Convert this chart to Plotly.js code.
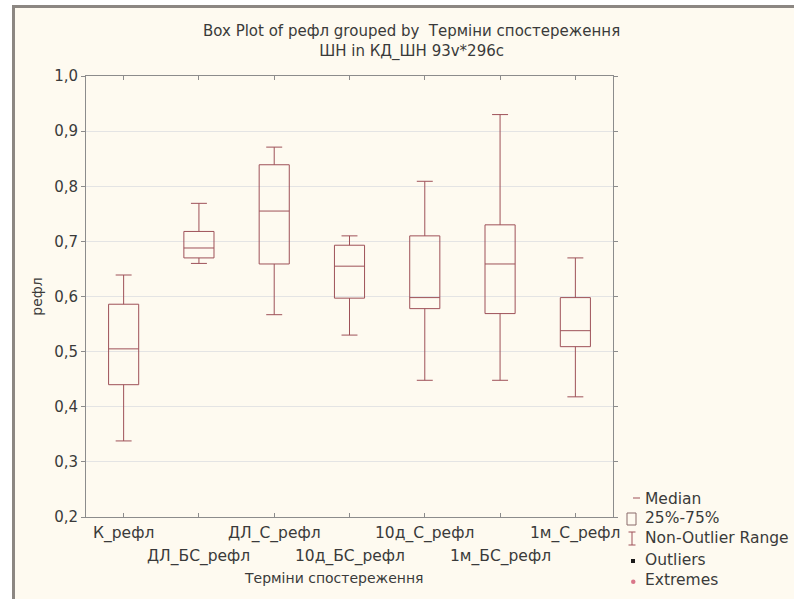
<!DOCTYPE html>
<html>
<head>
<meta charset="utf-8">
<script src="https://cdn.plot.ly/plotly-3.0.1.min.js"></script>
<style>
  html, body { margin: 0; padding: 0; background: #ffffff; }
  #chart { width: 794px; height: 599px; }
</style>
</head>
<body>
<div id="chart"></div>
<script>
// Observation periods and the summary statistics of "рефл" for each
var categories = ['К_рефл', 'ДЛ_БС_рефл', 'ДЛ_С_рефл', '10д_БС_рефл', '10д_С_рефл', '1м_БС_рефл', '1м_С_рефл'];
var medians    = [0.505, 0.688, 0.755, 0.655, 0.598, 0.659, 0.538];
var q1Values   = [0.440, 0.670, 0.659, 0.597, 0.578, 0.569, 0.509];
var q3Values   = [0.586, 0.718, 0.839, 0.693, 0.710, 0.730, 0.598];
var lowValues  = [0.338, 0.660, 0.567, 0.530, 0.448, 0.448, 0.418];
var highValues = [0.639, 0.769, 0.871, 0.710, 0.809, 0.930, 0.670];

var legendLabels = ['Median', '25%-75%', 'Non-Outlier Range', 'Outliers', 'Extremes'];
var yTickVals = [0.2, 0.3, 0.4, 0.5, 0.6, 0.7, 0.8, 0.9, 1.0];

var FONT = 'DejaVu Sans, Liberation Sans, Arial, sans-serif';
var BOX_COLOR = '#9e5158';
var TEXT_COLOR = '#3a3a3a';

// Plot area in pixels (used to turn pixel positions of decorations into paper units)
var W = 794, H = 599;
var M = { l: 86, r: 181, t: 76, b: 82 };
var PW = W - M.l - M.r, PH = H - M.t - M.b;
function px(x) { return (x - M.l) / PW; }
function py(y) { return (H - M.b - y) / PH; }

var trace = {
  type: 'box',
  x: categories,
  q1: q1Values,
  median: medians,
  q3: q3Values,
  lowerfence: lowValues,
  upperfence: highValues,
  boxpoints: false,
  width: 0.4,
  whiskerwidth: 0.53,
  fillcolor: 'rgba(255,255,255,0)',
  line: { color: BOX_COLOR, width: 1 },
  hoverinfo: 'skip',
  showlegend: false
};

var annotations = [];

// Chart title, two lines
annotations.push({
  xref: 'paper', yref: 'paper', x: px(411), y: py(41),
  xanchor: 'center', yanchor: 'middle', showarrow: false,
  text: 'Box Plot of рефл grouped by  Терміни спостереження<br>ШН in КД_ШН 93v*296c',
  font: { family: FONT, size: 15, color: TEXT_COLOR }
});

// Category labels, staggered over two rows
categories.forEach(function (c, i) {
  annotations.push({
    xref: 'x', yref: 'paper', x: c, y: 0,
    xanchor: 'center', yanchor: 'middle', showarrow: false,
    yshift: (i % 2 === 0) ? -16 : -39,
    text: c,
    font: { family: FONT, size: 15.5, color: TEXT_COLOR }
  });
});

// X axis title
annotations.push({
  xref: 'paper', yref: 'paper', x: px(334), y: py(578),
  xanchor: 'center', yanchor: 'middle', showarrow: false,
  text: 'Терміни спостереження',
  font: { family: FONT, size: 14, color: TEXT_COLOR }
});

// Key to the box symbols
var keyY = [499, 518, 538, 560, 580];
legendLabels.forEach(function (t, i) {
  annotations.push({
    xref: 'paper', yref: 'paper', x: px(643), y: py(keyY[i]),
    xanchor: 'left', yanchor: 'middle', showarrow: false,
    text: t,
    font: { family: FONT, size: 15.5, color: TEXT_COLOR }
  });
});

var shapes = [
  // outer frame with a cream fill
  { type: 'rect', xref: 'paper', yref: 'paper', layer: 'below',
    x0: px(13.5), x1: px(805), y0: py(6.5), y1: py(610),
    fillcolor: '#fefaf0', line: { color: '#8c8782', width: 3 } },
  // key: median dash
  { type: 'line', xref: 'paper', yref: 'paper',
    x0: px(633), x1: px(640), y0: py(498), y1: py(498),
    line: { color: BOX_COLOR, width: 1 } },
  // key: quartile box
  { type: 'rect', xref: 'paper', yref: 'paper',
    x0: px(627), x1: px(636), y0: py(513), y1: py(525),
    line: { color: '#8a6a6a', width: 1 }, fillcolor: 'rgba(0,0,0,0)' },
  // key: whisker range
  { type: 'line', xref: 'paper', yref: 'paper',
    x0: px(632), x1: px(632), y0: py(532), y1: py(545),
    line: { color: BOX_COLOR, width: 1 } },
  { type: 'line', xref: 'paper', yref: 'paper',
    x0: px(628.5), x1: px(635.5), y0: py(532), y1: py(532),
    line: { color: BOX_COLOR, width: 1 } },
  { type: 'line', xref: 'paper', yref: 'paper',
    x0: px(628.5), x1: px(635.5), y0: py(545), y1: py(545),
    line: { color: BOX_COLOR, width: 1 } },
  // key: outlier marker
  { type: 'rect', xref: 'paper', yref: 'paper',
    x0: px(631), x1: px(635), y0: py(559), y1: py(563),
    fillcolor: '#1a1a1a', line: { width: 0 } },
  // key: extreme marker
  { type: 'circle', xref: 'paper', yref: 'paper',
    x0: px(631), x1: px(635.5), y0: py(579.5), y1: py(584),
    fillcolor: '#d9778a', line: { width: 0 } }
];

var layout = {
  width: W, height: H,
  margin: M,
  paper_bgcolor: '#ffffff',
  plot_bgcolor: '#ffffff',
  separators: ', ',
  showlegend: false,
  font: { family: FONT, size: 15, color: TEXT_COLOR },
  xaxis: {
    type: 'category',
    categoryarray: categories,
    categoryorder: 'array',
    range: [-0.5, categories.length - 0.5],
    showticklabels: false,
    ticks: 'inside', ticklen: 4, tickcolor: '#8c8c8c',
    showgrid: false, zeroline: false,
    showline: true, linecolor: '#8c8c8c', linewidth: 1, mirror: 'ticks'
  },
  yaxis: {
    range: [0.2, 1.0],
    tickvals: yTickVals,
    tickformat: '.1f',
    ticks: 'outside', ticklen: 4, tickcolor: '#8c8c8c',
    tickfont: { family: FONT, size: 15, color: TEXT_COLOR },
    showgrid: true, gridcolor: '#e4e4e4', gridwidth: 1,
    zeroline: false,
    showline: true, linecolor: '#8c8c8c', linewidth: 1, mirror: 'ticks',
    title: { text: 'рефл', standoff: 8, font: { family: FONT, size: 14, color: TEXT_COLOR } }
  },
  annotations: annotations,
  shapes: shapes
};

Plotly.newPlot('chart', [trace], layout, { staticPlot: true, displayModeBar: false });
</script>
</body>
</html>
